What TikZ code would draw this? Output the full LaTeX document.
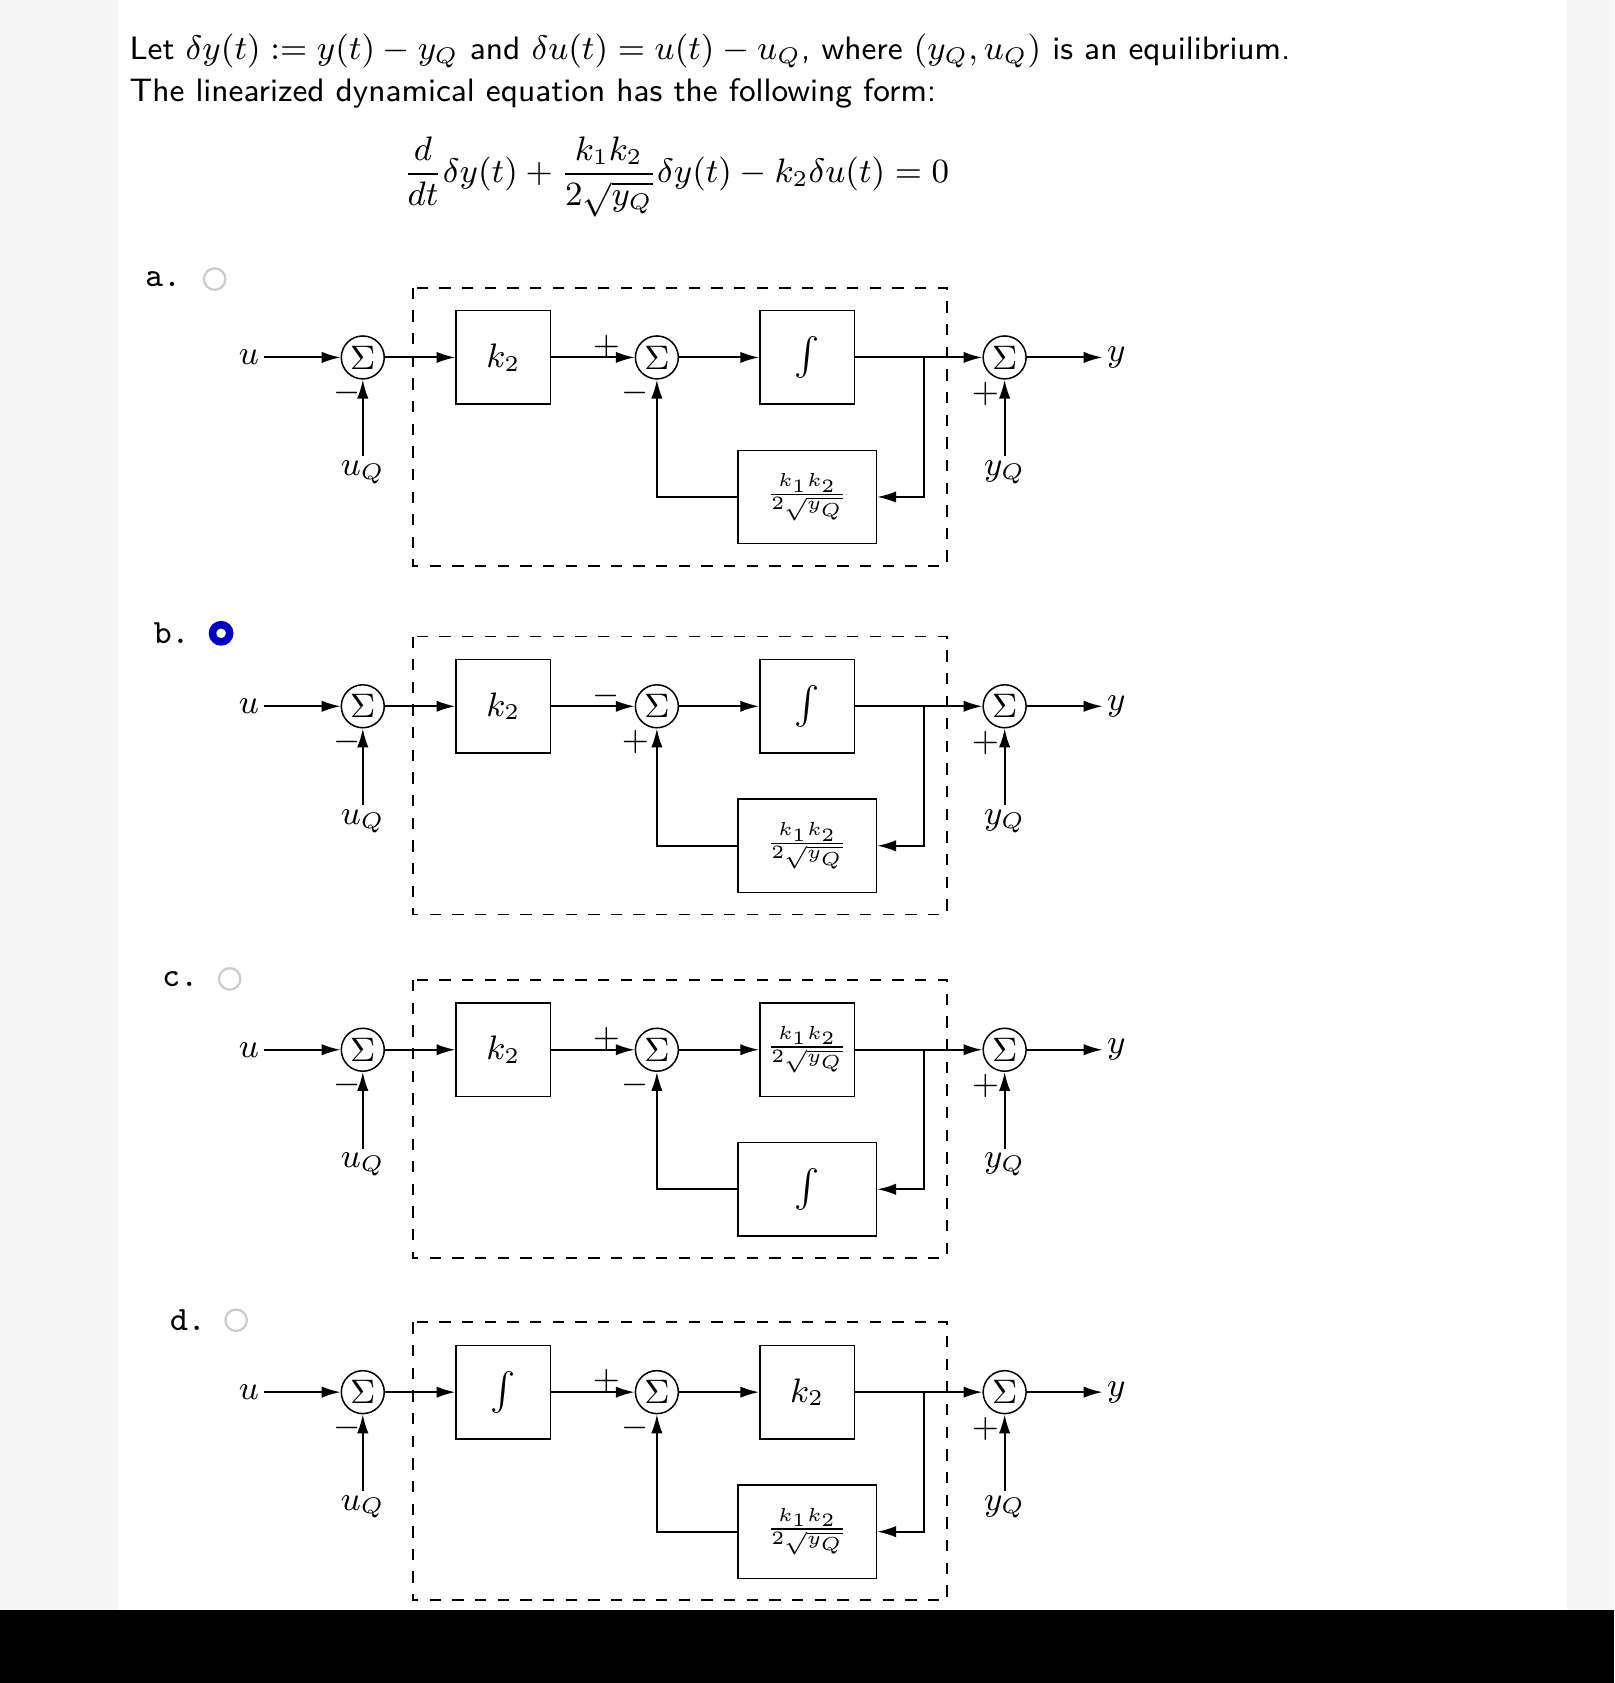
\documentclass[tikz,border=0pt]{standalone}
\usetikzlibrary{arrows.meta}
\begin{document}
\begin{tikzpicture}[x=0.01cm,y=-0.01cm,
  sum/.style={draw,circle,inner sep=0pt,minimum size=0.4cm,font=\small},
  blk/.style={draw,minimum width=0.88cm,minimum height=0.87cm,inner sep=0pt,font=\small},
  fblk/.style={draw,minimum width=1.29cm,minimum height=0.87cm,inner sep=0pt,font=\small},
  arr/.style={-{Latex[length=5pt,width=3pt]},line width=0.5pt},
  ln/.style={line width=0.5pt},
  lbl/.style={inner sep=1pt,font=\small},
  sgn/.style={inner sep=0pt,font=\small}]
\useasboundingbox (0,0) rectangle (1504,1568);
\fill[gray!8] (0,0) rectangle (1504,1568);
\fill[white] (110,0) rectangle (1460,1500);
\fill[black] (0,1500) rectangle (1504,1568);
\node[anchor=west,font=\sffamily\fontsize{8.6}{11}\selectfont,align=left,inner sep=0pt] (hdr) at (120,66) {Let $\delta y(t) := y(t) - y_Q$ and $\delta u(t) = u(t) - u_Q$, where $(y_Q,u_Q)$ is an equilibrium.\\The linearized dynamical equation has the following form:};
\node[font=\fontsize{9}{11}\selectfont] (eq) at (630,165) {$\displaystyle \frac{d}{dt}\delta y(t) + \frac{k_1k_2}{2\sqrt{y_Q}}\delta y(t) - k_2\delta u(t) = 0$};
\newcommand\diag[7]{%
\begin{scope}[shift={(0,#1)}]
\node[lbl] (u#7) at (232,0) {$u$};
\node[sum] (sa#7) at (338,0) {$\Sigma$};
\draw[arr] (u#7) -- (sa#7);
\node[lbl] (uq#7) at (338,107) {$u_Q$};
\draw[arr] (uq#7) -- (sa#7);
\node[sgn] (ma#7) at (323,33) {$-$};
\node[blk] (ba#7) at (469,0) {#2};
\draw[arr] (sa#7) -- (ba#7);
\node[sum] (sb#7) at (612,0) {$\Sigma$};
\draw[arr] (ba#7) -- (sb#7);
\node[sgn] (pb#7) at (565,-10) {#5};
\node[sgn] (qb#7) at (592,33) {#6};
\node[blk] (bb#7) at (752,0) {#3};
\draw[arr] (sb#7) -- (bb#7);
\node[fblk] (bc#7) at (752,130) {#4};
\coordinate (br#7) at (861,0);
\node[sum] (sc#7) at (936,0) {$\Sigma$};
\draw[arr] (bb#7) -- (sc#7);
\draw[arr] (br#7) |- (bc#7);
\draw[arr] (bc#7) -| (sb#7);
\node[lbl] (yq#7) at (936,107) {$y_Q$};
\draw[arr] (yq#7) -- (sc#7);
\node[sgn] (pc#7) at (918,34) {$+$};
\node[lbl] (y#7) at (1040,0) {$y$};
\draw[arr] (sc#7) -- (y#7);
\draw[dashed,ln] (385,-65) rectangle (882,194);
\end{scope}}
\newcommand\fr{$\scriptscriptstyle\frac{k_1k_2}{2\sqrt{y_Q}}$}
\newcommand\ig{$\int$}
\diag{333}{$k_2$}{\ig}{\fr}{$+$}{$-$}{A}
\diag{658}{$k_2$}{\ig}{\fr}{$-$}{$+$}{B}
\diag{978}{$k_2$}{\fr}{\ig}{$+$}{$-$}{C}
\diag{1297}{\ig}{$k_2$}{\fr}{$+$}{$-$}{D}
\node[font=\ttfamily\small] (la) at (152,260) {a.};
\draw[gray!40,line width=0.6pt] (200,260) circle (10);
\node[font=\ttfamily\small] (lb) at (160,590) {b.};
\draw[blue!75!black,line width=2pt] (206,590) circle (8);
\node[font=\ttfamily\small] (lc) at (168,912) {c.};
\draw[gray!40,line width=0.6pt] (214,912) circle (10);
\node[font=\ttfamily\small] (ld) at (175,1230) {d.};
\draw[gray!40,line width=0.6pt] (220,1230) circle (10);
\end{tikzpicture}
\end{document}
